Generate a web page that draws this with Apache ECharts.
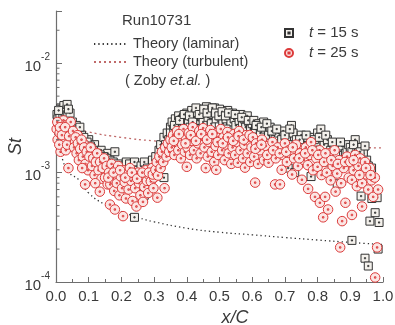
<!DOCTYPE html>
<html><head><meta charset="utf-8">
<script src="https://cdn.jsdelivr.net/npm/echarts@6/dist/echarts.min.js"></script>
<style>html,body{margin:0;padding:0;background:#fff}#c{width:395px;height:325px}</style>
</head><body><div id="c"></div>
<script>
// ---- data ----
const xTickLabels = ['0.0','0.1','0.2','0.3','0.4','0.5','0.6','0.7','0.8','0.9','1.0'];
const yMinorTicks = [2e-4,3e-4,4e-4,5e-4,6e-4,7e-4,8e-4,9e-4,2e-3,3e-3,4e-3,5e-3,6e-3,7e-3,8e-3,9e-3,2e-2];

const laminarX  = [0.01,0.02,0.04,0.07,0.1,0.15,0.2,0.25,0.3,0.4,0.5,0.6,0.7,0.8,0.9,1.0];
const laminarSt = [1.9e-3,1.32e-3,1.0e-3,8.6e-4,6.5e-4,5.1e-4,4.4e-4,3.9e-4,3.55e-4,3.1e-4,2.85e-4,2.7e-4,2.55e-4,2.42e-4,2.3e-4,2.2e-4];

const turbX  = [0.02,0.05,0.1,0.2,0.3,0.4,0.5,0.6,0.7,0.8,0.9,1.0];
const turbSt = [3.0e-3,2.6e-3,2.35e-3,2.1e-3,1.95e-3,1.88e-3,1.82e-3,1.78e-3,1.75e-3,1.72e-3,1.70e-3,1.68e-3];

const t15 = [
[0.003,3.4e-3],[0.006,3.1e-3],[0.009,2.4e-3],[0.012,3.4e-3],[0.015,3.9e-3],[0.018,3.8e-3],[0.021,3.3e-3],[0.024,4.1e-3],[0.027,3.6e-3],[0.03,3.0e-3],[0.034,4.2e-3],[0.036,3.4e-3],[0.04,2.8e-3],[0.043,3.5e-3],[0.046,2.6e-3],[0.05,2.9e-3],
[0.008,3.7e-3],[0.02,2.9e-3],[0.038,3.8e-3],[0.062,2.7e-3],[0.078,2.2e-3],[0.1,2.0e-3],[0.118,1.8e-3],[0.138,1.6e-3],[0.158,1.5e-3],
[0.055,2.5e-3],[0.06,2.2e-3],[0.065,2.4e-3],[0.07,2.0e-3],[0.073,2.6e-3],[0.08,1.85e-3],[0.085,2.1e-3],[0.09,1.7e-3],[0.095,1.9e-3],[0.1,1.6e-3],[0.105,1.75e-3],[0.11,1.45e-3],[0.115,1.6e-3],[0.12,1.35e-3],[0.125,1.5e-3],[0.13,1.3e-3],[0.135,1.45e-3],[0.14,1.25e-3],[0.145,1.4e-3],[0.15,1.2e-3],
[0.155,1.35e-3],[0.16,1.15e-3],[0.165,1.3e-3],[0.17,1.1e-3],[0.175,1.25e-3],[0.18,1.55e-3],[0.185,1.05e-3],[0.19,1.2e-3],[0.195,1.0e-3],[0.2,1.15e-3],[0.205,9.5e-4],[0.21,1.1e-3],[0.215,1.25e-3],[0.22,1.0e-3],[0.225,1.2e-3],[0.23,9.0e-4],[0.235,1.1e-3],[0.24,1.25e-3],[0.245,9.0e-4],[0.25,1.05e-3],[0.255,8.5e-4],[0.26,1.15e-3],[0.265,1.0e-3],[0.27,1.25e-3],[0.275,9.0e-4],[0.28,1.1e-3],[0.285,8.8e-4],[0.29,1.05e-3],[0.295,1.3e-3],[0.3,1.0e-3],[0.24,3.9e-4],[0.27,6.2e-4],[0.26,7.5e-4],[0.225,7.8e-4],
[0.305,1.4e-3],[0.31,1.2e-3],[0.315,1.6e-3],[0.32,1.8e-3],[0.325,1.5e-3],[0.33,2.1e-3],[0.33,9.0e-4],[0.335,1.8e-3],[0.34,2.3e-3],[0.345,2.0e-3],[0.35,2.6e-3],[0.35,2.3e-3],
[0.355,2.9e-3],[0.36,2.5e-3],[0.365,3.1e-3],[0.37,2.7e-3],[0.375,3.3e-3],[0.38,2.9e-3],[0.385,2.5e-3],[0.39,3.2e-3],[0.395,2.8e-3],[0.4,3.5e-3],[0.405,3.0e-3],[0.41,2.6e-3],[0.415,3.7e-3],[0.42,3.2e-3],[0.425,2.8e-3],[0.43,3.5e-3],[0.435,3.0e-3],[0.44,3.8e-3],[0.445,3.3e-3],[0.45,2.9e-3],[0.455,3.6e-3],[0.46,4.0e-3],[0.465,3.2e-3],[0.47,3.7e-3],[0.475,2.8e-3],[0.48,3.4e-3],[0.485,3.9e-3],[0.49,3.1e-3],[0.495,3.6e-3],[0.5,3.8e-3],[0.505,3.2e-3],[0.51,2.8e-3],[0.515,3.5e-3],[0.52,3.1e-3],[0.525,3.7e-3],[0.53,3.3e-3],[0.535,2.9e-3],[0.54,3.5e-3],[0.545,3.1e-3],[0.55,2.7e-3],[0.555,3.3e-3],[0.56,3.0e-3],[0.565,3.4e-3],[0.57,2.8e-3],[0.575,3.1e-3],[0.58,2.6e-3],[0.585,3.3e-3],[0.59,2.9e-3],[0.595,2.5e-3],[0.6,2.8e-3],[0.39,2.4e-3],[0.44,2.5e-3],[0.47,2.4e-3],[0.52,2.5e-3],[0.56,2.3e-3],
[0.362,2.7e-3],[0.378,3.0e-3],[0.392,3.4e-3],[0.408,3.3e-3],[0.418,2.9e-3],[0.428,3.9e-3],[0.438,3.4e-3],[0.452,3.8e-3],[0.462,3.5e-3],[0.478,3.9e-3],[0.488,3.5e-3],[0.498,3.3e-3],[0.508,3.6e-3],[0.518,3.3e-3],[0.528,3.5e-3],[0.548,3.4e-3],[0.568,3.2e-3],[0.588,3.0e-3],
[0.605,3.0e-3],[0.61,2.5e-3],[0.62,2.8e-3],[0.625,2.3e-3],[0.635,2.9e-3],[0.64,2.5e-3],[0.65,2.2e-3],[0.655,2.6e-3],[0.665,2.1e-3],[0.67,2.0e-3],[0.68,2.3e-3],[0.69,2.0e-3],[0.695,2.4e-3],[0.705,2.1e-3],[0.71,1.8e-3],[0.72,2.7e-3],[0.725,2.3e-3],[0.735,2.0e-3],[0.74,1.7e-3],[0.75,2.2e-3],[0.76,1.9e-3],[0.77,2.1e-3],[0.78,2.1e-3],[0.785,1.7e-3],[0.795,1.9e-3],[0.8,2.3e-3],[0.81,2.5e-3],[0.815,2.1e-3],[0.82,1.8e-3],[0.83,2.0e-3],[0.84,1.6e-3],[0.85,1.8e-3],[0.855,1.5e-3],[0.865,1.7e-3],[0.875,1.75e-3],[0.885,1.5e-3],[0.89,1.6e-3],[0.71,1.1e-3],[0.73,1.0e-3],[0.78,9.2e-4],[0.86,7.9e-4],[0.75,1.3e-3],[0.8,1.4e-3],[0.83,1.25e-3],
[0.612,2.7e-3],[0.628,2.6e-3],[0.645,2.8e-3],[0.66,2.4e-3],[0.675,2.5e-3],[0.7,2.2e-3],[0.715,2.5e-3],[0.745,2.0e-3],[0.765,2.2e-3],[0.79,2.0e-3],[0.805,2.1e-3],[0.825,2.2e-3],[0.845,1.9e-3],[0.87,1.9e-3],[0.895,1.8e-3],
[0.9,1.7e-3],[0.905,1.55e-3],[0.915,2.0e-3],[0.92,1.65e-3],[0.925,1.6e-3],[0.935,1.7e-3],[0.94,1.5e-3],[0.95,1.3e-3],[0.955,1.15e-3],[0.96,1.0e-3],[0.965,1.1e-3],[0.91,1.8e-3],[0.93,1.55e-3],[0.945,1.75e-3],
[0.933,6.1e-4],[0.966,5.8e-4],[0.982,5.9e-4],[0.976,4.3e-4],[0.96,3.6e-4],[0.988,3.5e-4],[0.905,2.4e-4],[0.985,2.0e-4],[0.945,1.65e-4],[0.955,1.4e-4]
];

const t25 = [
[0.002,2.5e-3],[0.005,2.0e-3],[0.008,2.8e-3],[0.011,2.3e-3],[0.014,1.55e-3],[0.017,2.6e-3],[0.02,2.1e-3],[0.023,3.0e-3],[0.026,2.4e-3],[0.029,1.9e-3],[0.032,2.7e-3],[0.035,2.2e-3],[0.038,1.1e-3],[0.041,2.5e-3],[0.044,1.8e-3],[0.047,2.3e-3],[0.05,2.0e-3],[0.01,1.8e-3],[0.03,1.6e-3],[0.045,2.9e-3],
[0.004,2.9e-3],[0.012,2.6e-3],[0.018,2.2e-3],[0.028,2.6e-3],[0.034,1.8e-3],[0.04,2.15e-3],[0.052,2.4e-3],[0.058,1.9e-3],[0.066,2.2e-3],[0.072,1.55e-3],[0.084,1.85e-3],[0.092,1.4e-3],[0.1,1.6e-3],[0.108,1.3e-3],[0.116,1.55e-3],[0.124,1.1e-3],[0.132,1.35e-3],[0.14,1.2e-3],[0.148,1.05e-3],
[0.055,1.7e-3],[0.06,2.1e-3],[0.063,1.5e-3],[0.067,1.85e-3],[0.07,1.3e-3],[0.074,1.65e-3],[0.078,2.0e-3],[0.082,1.4e-3],[0.086,1.7e-3],[0.089,7.8e-4],[0.09,1.2e-3],[0.094,1.55e-3],[0.098,1.05e-3],[0.102,1.4e-3],[0.106,1.7e-3],[0.11,1.15e-3],[0.114,1.35e-3],[0.118,9.5e-4],[0.122,1.25e-3],[0.126,1.5e-3],[0.13,1.05e-3],[0.134,6.7e-4],[0.135,1.25e-3],[0.139,8.8e-4],[0.143,1.1e-3],[0.147,1.35e-3],[0.15,9.0e-4],[0.08,1.1e-3],[0.12,8.0e-4],
[0.155,1.15e-3],[0.158,7.8e-4],[0.162,1.0e-3],[0.165,5.1e-4],[0.166,7.8e-4],[0.17,1.2e-3],[0.174,8.8e-4],[0.178,6.8e-4],[0.18,4.6e-4],[0.182,1.05e-3],[0.186,8.0e-4],[0.19,1.15e-3],[0.194,6.2e-4],[0.198,9.2e-4],[0.202,7.2e-4],[0.205,4.0e-4],[0.206,1.05e-3],[0.21,8.2e-4],[0.214,5.8e-4],[0.218,9.6e-4],[0.222,7.0e-4],[0.226,1.1e-3],[0.23,8.4e-4],[0.234,5.5e-4],[0.238,9.8e-4],[0.242,7.2e-4],[0.246,4.9e-4],[0.25,1.0e-3],[0.254,8.0e-4],[0.258,6.2e-4],[0.262,9.2e-4],[0.266,5.4e-4],[0.27,7.4e-4],[0.274,1.05e-3],[0.278,8.4e-4],[0.282,6.5e-4],[0.286,9.4e-4],[0.29,8.3e-4],[0.294,1.1e-3],[0.298,7.2e-4],[0.3,9.0e-4],[0.31,5.9e-4],
[0.16,9.0e-4],[0.176,1.0e-3],[0.196,1.05e-3],[0.212,9.0e-4],[0.232,1.0e-3],[0.248,8.8e-4],[0.264,1.0e-3],[0.284,1.0e-3],[0.296,9.6e-4],
[0.304,1.06e-3],[0.308,1.25e-3],[0.312,9.4e-4],[0.316,1.4e-3],[0.32,1.1e-3],[0.324,1.55e-3],[0.328,1.25e-3],[0.332,7.2e-4],[0.334,1.7e-3],[0.338,1.4e-3],[0.342,1.85e-3],[0.346,1.55e-3],[0.35,2.0e-3],
[0.354,1.7e-3],[0.358,2.2e-3],[0.362,1.45e-3],[0.366,1.9e-3],[0.37,2.4e-3],[0.374,1.6e-3],[0.378,2.1e-3],[0.382,1.35e-3],[0.386,1.8e-3],[0.39,2.5e-3],[0.394,1.55e-3],[0.398,2.05e-3],[0.4,1.13e-3],[0.402,1.7e-3],[0.406,2.3e-3],[0.41,1.45e-3],[0.414,1.95e-3],[0.418,2.6e-3],[0.422,1.6e-3],[0.426,2.15e-3],[0.43,1.35e-3],[0.434,1.85e-3],[0.438,2.4e-3],[0.442,1.5e-3],[0.446,2.0e-3],[0.45,2.55e-3],[0.454,1.7e-3],[0.458,1.1e-3],[0.46,2.2e-3],[0.464,1.4e-3],[0.468,1.9e-3],[0.472,2.45e-3],[0.476,1.55e-3],[0.48,2.05e-3],[0.484,1.25e-3],[0.488,1.75e-3],[0.49,1.06e-3],[0.492,2.3e-3],[0.496,1.45e-3],[0.5,1.95e-3],[0.504,2.5e-3],[0.508,1.6e-3],[0.512,2.1e-3],[0.516,1.3e-3],[0.52,1.8e-3],[0.524,2.35e-3],[0.528,1.5e-3],[0.532,2.0e-3],[0.536,1.2e-3],[0.54,1.7e-3],[0.544,2.25e-3],[0.548,1.45e-3],[0.552,1.9e-3],[0.556,1.23e-3],[0.56,2.4e-3],[0.564,1.6e-3],[0.568,2.05e-3],[0.572,1.35e-3],[0.576,1.8e-3],[0.578,1.11e-3],[0.582,2.2e-3],[0.586,1.5e-3],[0.59,1.95e-3],[0.594,1.25e-3],[0.598,1.7e-3],
[0.36,1.95e-3],[0.376,2.25e-3],[0.396,1.85e-3],[0.412,2.2e-3],[0.428,1.95e-3],[0.444,2.25e-3],[0.462,2.0e-3],[0.478,2.25e-3],[0.494,1.9e-3],[0.51,1.85e-3],[0.526,2.1e-3],[0.542,1.95e-3],[0.558,2.15e-3],[0.574,2.0e-3],[0.592,2.2e-3],
[0.602,2.1e-3],[0.606,1.4e-3],[0.609,8.1e-4],[0.612,1.85e-3],[0.618,1.2e-3],[0.624,1.6e-3],[0.63,2.0e-3],[0.636,1.3e-3],[0.642,1.75e-3],[0.65,1.23e-3],[0.656,1.5e-3],[0.662,1.9e-3],[0.67,7.8e-4],[0.672,1.35e-3],[0.678,1.7e-3],[0.685,7.8e-4],[0.69,1.06e-3],[0.694,1.45e-3],[0.7,1.85e-3],[0.706,1.25e-3],[0.712,1.6e-3],[0.72,1.6e-3],[0.722,9.6e-4],[0.728,1.35e-3],[0.734,1.8e-3],[0.74,1.15e-3],[0.746,1.5e-3],[0.752,8.6e-4],[0.758,1.3e-3],[0.764,1.7e-3],[0.77,1.17e-3],[0.771,7.1e-4],[0.776,1.45e-3],[0.78,1.9e-3],[0.786,1.05e-3],[0.792,6.0e-4],[0.796,1.35e-3],[0.8,1.13e-3],[0.806,1.6e-3],[0.807,5.3e-4],[0.812,9.5e-4],[0.817,3.9e-4],[0.82,1.25e-3],[0.823,6.0e-4],[0.828,1.0e-3],[0.832,4.6e-4],[0.836,1.5e-3],[0.84,8.5e-4],[0.846,1.15e-3],[0.852,1.6e-3],[0.855,6.7e-4],[0.86,9.8e-4],[0.866,1.3e-3],[0.869,2.07e-4],[0.872,8.0e-4],[0.875,3.6e-4],[0.88,1.1e-3],[0.885,5.3e-4],[0.89,1.4e-3],[0.895,9.0e-4],
[0.61,1.65e-3],[0.628,1.8e-3],[0.646,1.45e-3],[0.664,1.6e-3],[0.684,1.5e-3],[0.704,1.55e-3],[0.724,1.7e-3],[0.744,1.35e-3],[0.762,1.5e-3],[0.784,1.6e-3],[0.802,1.45e-3],[0.824,1.5e-3],[0.842,1.3e-3],[0.862,1.2e-3],[0.884,1.25e-3],
[0.9,1.25e-3],[0.905,8.6e-4],[0.905,4.1e-4],[0.91,1.05e-3],[0.915,1.45e-3],[0.92,7.5e-4],[0.925,1.15e-3],[0.93,1.35e-3],[0.936,4.9e-4],[0.936,8.0e-4],[0.94,1.0e-3],[0.945,1.25e-3],[0.95,9.6e-4],[0.955,7.0e-4],[0.96,1.1e-3],[0.965,8.5e-4],[0.97,6.0e-4],[0.975,9.0e-4],[0.976,1.1e-4],[0.982,2.07e-4],[0.985,7.0e-4],
[0.91,1.3e-3],[0.928,9.5e-4],[0.948,1.1e-3],[0.962,9.5e-4]
];

// ---- chart ----
const FONT = '"Liberation Sans", Arial, Helvetica, sans-serif';
const AX = '#6e6e6e';
const TXT = '#3a3a3a';
const SQ = 'path://M0,0H20V20H0Z M8.5,8.5H11.5V11.5H8.5Z';
const CI = 'path://M10,0A10,10,0,1,1,10,20A10,10,0,1,1,10,0Z M8.5,8.5H11.5V11.5H8.5Z';

const chart = echarts.init(document.getElementById('c'), null, {renderer: 'canvas'});
chart.setOption({
  animation: false,
  backgroundColor: '#fff',
  textStyle: {fontFamily: FONT},
  grid: {left: 56, right: 12, top: 11, bottom: 43, containLabel: false, outerBoundsMode: 'none'},
  legend: [
    {
      data: ['Theory (laminar)', 'Theory (turbulent)'],
      orient: 'vertical', left: 88, top: 31, itemGap: 2,
      itemWidth: 34, itemHeight: 10, selectedMode: false,
      itemStyle: {color: 'rgba(0,0,0,0)', borderWidth: 0, opacity: 0},
      textStyle: {fontFamily: FONT, fontSize: 14.5, color: TXT, lineHeight: 16}
    },
    {
      data: ['t15', 't25'],
      orient: 'vertical', left: 279, top: 20, itemGap: 4,
      itemWidth: 8, itemHeight: 8, selectedMode: false,
      formatter: function (n) { return n === 't15' ? '{i|t} = 15 s' : '{i|t} = 25 s'; },
      textStyle: {fontFamily: FONT, fontSize: 15, color: TXT, lineHeight: 16, padding: [0, 0, 0, 11],
        rich: {i: {fontStyle: 'italic', fontFamily: FONT, fontSize: 15, color: TXT}}}
    }
  ],
  graphic: [
    {type: 'text', left: 122, top: 13, silent: true,
      style: {text: 'Run10731', font: '15px ' + FONT, fill: TXT}},
    {type: 'text', left: 125, top: 73, silent: true,
      style: {text: '( Zoby {i|et.al.} )', font: '14.5px ' + FONT, fill: TXT,
        rich: {i: {fontStyle: 'italic', fontSize: 14.5, fontFamily: FONT, fill: TXT}}}}
  ],
  xAxis: {
    type: 'value', min: 0, max: 1, interval: 0.1,
    name: 'x/C', nameLocation: 'middle', nameGap: 26,
    nameTextStyle: {fontFamily: FONT, fontSize: 18, fontStyle: 'italic', color: TXT, padding: [0, 0, 0, 31]},
    axisLine: {show: true, lineStyle: {color: AX, width: 1.2}},
    axisTick: {show: true, inside: true, length: 5, lineStyle: {color: AX}},
    minorTick: {show: true, splitNumber: 2, length: 3, lineStyle: {color: AX}},
    splitLine: {show: false},
    axisLabel: {fontFamily: FONT, fontSize: 15, color: TXT, margin: 7,
      formatter: function (v) { return xTickLabels[Math.round(v * 10)]; }}
  },
  yAxis: {
    type: 'log', logBase: 10, min: 1e-4, max: 3e-2, interval: 1,
    name: 'St', nameLocation: 'middle', nameGap: 31, nameRotate: 90, nameMoveOverlap: false,
    nameTextStyle: {fontFamily: FONT, fontSize: 18, fontStyle: 'italic', color: TXT},
    axisLine: {show: true, lineStyle: {color: AX, width: 1.2}},
    axisTick: {show: true, inside: true, length: 6, lineStyle: {color: AX}},
    splitLine: {show: false},
    axisLabel: {margin: 6, color: TXT, fontFamily: FONT,
      formatter: function (v) {
        const l = Math.log10(v), e = Math.round(l);
        if (Math.abs(l - e) > 1e-6) return '';
        return '{b|10}{s|' + e + '}';
      },
      rich: {
        b: {fontSize: 15, fontFamily: FONT, color: TXT, padding: [7, 0, 0, 0]},
        s: {fontSize: 10, fontFamily: FONT, color: TXT, verticalAlign: 'top'}
      }
    }
  },
  series: [
    {
      name: 'Theory (laminar)', type: 'line', smooth: true, showSymbol: false, symbol: 'none',
      data: laminarX.map((x, i) => [x, laminarSt[i]]),
      lineStyle: {color: '#333', width: 1.3, type: [1.3, 3]}, itemStyle: {color: '#333'},
      z: 1, silent: true
    },
    {
      name: 'Theory (turbulent)', type: 'line', smooth: true, showSymbol: false, symbol: 'none',
      data: turbX.map((x, i) => [x, turbSt[i]]),
      lineStyle: {color: '#c06a6a', width: 1.3, type: [2, 3]}, itemStyle: {color: '#c06a6a'},
      z: 1, silent: true
    },
    {
      name: 't15', type: 'scatter', symbol: SQ, symbolSize: 8, data: t15,
      itemStyle: {color: '#f4f1ec', borderColor: '#333', borderWidth: 1, opacity: 1},
      z: 2, silent: true
    },
    {
      name: 't25', type: 'scatter', symbol: CI, symbolSize: 9.5, data: t25,
      itemStyle: {color: '#fbe6e4', borderColor: '#dc3a3a', borderWidth: 1, opacity: 1},
      z: 3, silent: true
    },
    {
      name: 'yMinor', type: 'custom', silent: true, z: 5,
      data: yMinorTicks.map(v => [0, v]),
      clip: false,
      renderItem: function (params, api) {
        const p = api.coord([api.value(0), api.value(1)]);
        return {type: 'line', shape: {x1: p[0], y1: p[1], x2: p[0] + 3.5, y2: p[1]},
          style: {stroke: AX, lineWidth: 1}};
      }
    }
  ]
});
</script></body></html>
